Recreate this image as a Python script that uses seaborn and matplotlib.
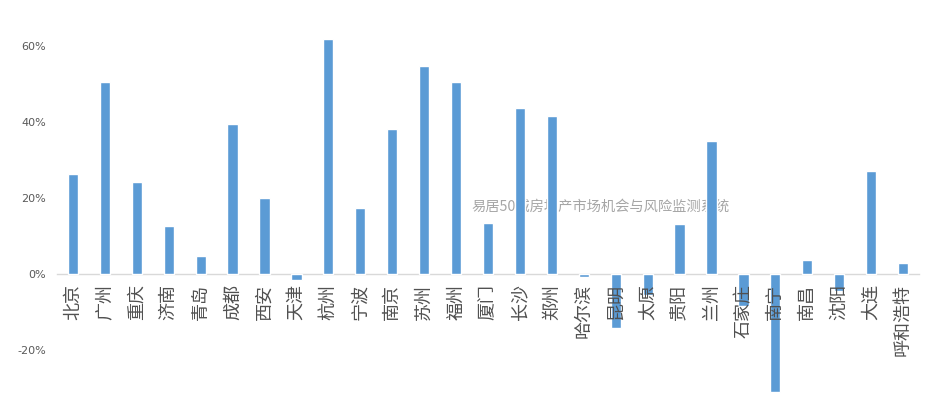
import numpy as np
import pandas as pd
import matplotlib
matplotlib.use("Agg")
import matplotlib.pyplot as plt
import seaborn as sns

cities = ['北京', '广州', '重庆', '济南', '青岛', '成都', '西安', '天津', '杭州', '宁波',
          '南京', '苏州', '福州', '厦门', '长沙', '郑州', '哈尔滨', '昆明', '太原', '贵阳',
          '兰州', '石家庄', '南宁', '南昌', '沈阳', '大连', '呼和浩特']
changes = [26.3, 50.5, 24.2, 12.6, 4.7, 39.5, 20.0, -1.6, 61.8, 17.4,
           38.2, 54.7, 50.5, 13.4, 43.7, 41.6, -0.9, -14.2, -5.5, 13.2,
           35.0, -8.5, -31.0, 3.7, -4.5, 27.1, 2.9]
yticks = [-20, 0, 20, 40, 60]
watermark = '易居50城房地产市场机会与风险监测系统'

df = pd.DataFrame({'city': cities, 'change': changes})

sns.set_theme(style='white')
plt.rcParams['font.family'] = ['Noto Sans CJK SC', 'DejaVu Sans']

fig = plt.figure(figsize=(9.46, 4.08), dpi=100)
ax = fig.add_axes([57 / 946, 5 / 408, 862 / 946, 395 / 408])

sns.barplot(data=df, x='city', y='change', color='#5B9BD5', saturation=1,
            width=0.32, ax=ax, zorder=2)

ax.set_ylim(-34, 70)
ax.set_xlim(-0.5, len(cities) - 0.5)

# zero line carries the city labels
for s in ['top', 'right', 'left']:
    ax.spines[s].set_visible(False)
ax.spines['bottom'].set_position(('data', 0))
ax.spines['bottom'].set_color('#d9d9d9')
ax.spines['bottom'].set_linewidth(1)
ax.spines['bottom'].set_zorder(1)

ax.set_yticks(yticks)
ax.set_yticklabels([f'{v}%' for v in yticks], fontsize=8, color='#595959',
                   family=['DejaVu Sans'])
ax.tick_params(axis='y', length=0, pad=8)
ax.tick_params(axis='x', length=0, pad=7)
plt.setp(ax.get_xticklabels(), rotation=90, fontsize=13, color='#505050')
ax.xaxis.set_zorder(3)

ax.set_xlabel('')
ax.set_ylabel('')

ax.text(0.63, 0.497, watermark, transform=ax.transAxes, ha='center', va='center',
        fontsize=10.3, color='#a6a6a6', style='italic', zorder=0)

fig.savefig('out.png', dpi=100)
